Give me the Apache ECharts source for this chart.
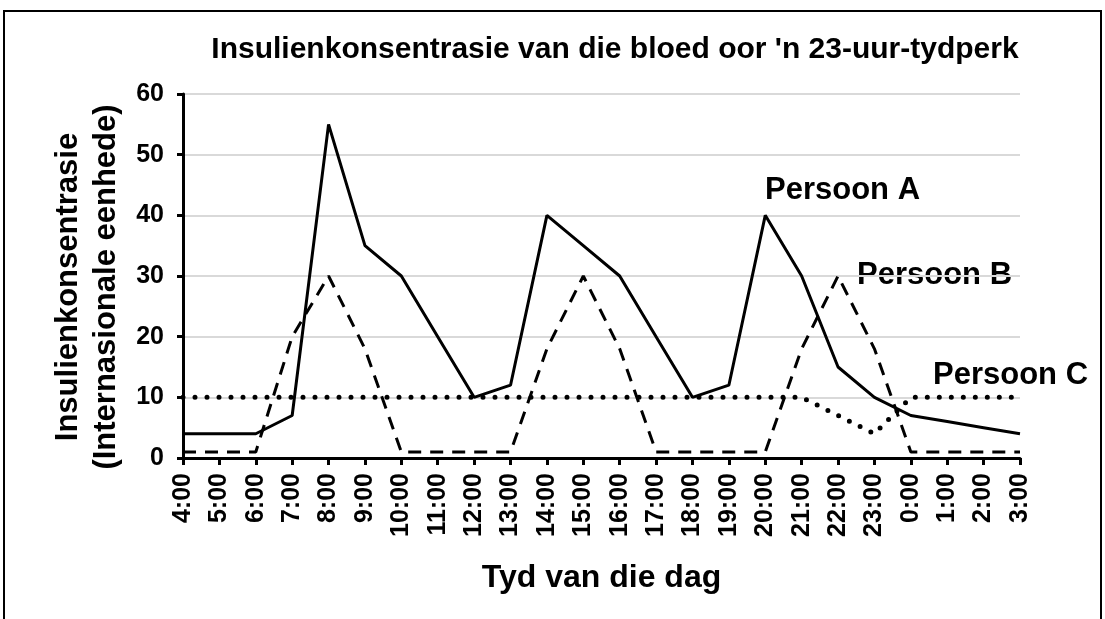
<!DOCTYPE html>
<html>
<head>
<meta charset="utf-8">
<script src="https://cdn.jsdelivr.net/npm/echarts@6/dist/echarts.min.js"></script>
<style>
  html, body { margin: 0; padding: 0; background: #fff; }
  #chart { width: 1105px; height: 619px; }
</style>
</head>
<body>
<div id="chart"></div>
<script>
var hours = ['4:00', '5:00', '6:00', '7:00', '8:00', '9:00', '10:00', '11:00', '12:00', '13:00', '14:00', '15:00',
    '16:00', '17:00', '18:00', '19:00', '20:00', '21:00', '22:00', '23:00', '0:00', '1:00', '2:00', '3:00'];
var persoonA = [4, 4, 4, 7, 55, 35, 30, 20, 10, 12, 40, 35, 30, 20, 10, 12, 40, 30, 15, 10, 7, 6, 5, 4];
var persoonB = [1, 1, 1, 20, 30, 18, 1, 1, 1, 1, 18, 30, 18, 1, 1, 1, 1, 18, 30, 18, 1, 1, 1, 1];
var persoonC = [10, 10, 10, 10, 10, 10, 10, 10, 10, 10, 10, 10, 10, 10, 10, 10, 10, 10, 7, 4, 10, 10, 10, 10];

var font = 'Liberation Sans, Arial, sans-serif';
var myChart = echarts.init(document.getElementById('chart'));

var option = {
    backgroundColor: '#fff',
    animation: false,
    title: {
        text: "Insulienkonsentrasie van die bloed oor 'n 23-uur-tydperk",
        left: 610,
        textAlign: 'center',
        top: 30,
        textStyle: { fontFamily: font, fontSize: 30, fontWeight: 'bold', color: '#000' }
    },
    grid: { left: 183, right: 85, top: 94, bottom: 161 },
    xAxis: {
        type: 'category',
        data: hours,
        boundaryGap: false,
        name: 'Tyd van die dag',
        nameLocation: 'middle',
        nameGap: 104,
        nameTextStyle: { fontFamily: font, fontSize: 32, fontWeight: 'bold', color: '#000' },
        axisLine: { lineStyle: { color: '#000', width: 3 } },
        axisTick: { show: true, alignWithLabel: true, length: 7, lineStyle: { color: '#000', width: 3 } },
        axisLabel: { interval: 0, rotate: 90, margin: 15, fontFamily: font, fontSize: 25, fontWeight: 'bold', color: '#000' },
        splitLine: { show: false }
    },
    yAxis: {
        type: 'value',
        min: 0,
        max: 60,
        interval: 10,
        name: 'Insulienkonsentrasie\n(Internasionale eenhede)',
        nameLocation: 'middle',
        nameRotate: 90,
        nameGap: 56,
        nameTextStyle: { fontFamily: font, fontSize: 31, fontWeight: 'bold', color: '#000', lineHeight: 38, padding: [0, 22, 0, 0] },
        axisLine: { show: true, lineStyle: { color: '#000', width: 3 } },
        axisTick: { show: true, length: 6, lineStyle: { color: '#000', width: 3 } },
        axisLabel: { margin: 19, fontFamily: font, fontSize: 25, fontWeight: 'bold', color: '#000' },
        splitLine: { show: true, lineStyle: { color: '#d9d9d9', width: 2 } }
    },
    series: [{
        name: 'Persoon C',
        type: 'line',
        data: persoonC,
        symbol: 'none',
        lineStyle: { color: '#000', width: 5, type: [0, 12], cap: 'round' },
        z: 2
    }, {
        name: 'Persoon B',
        type: 'line',
        data: persoonB,
        symbol: 'none',
        lineStyle: { color: '#000', width: 3, type: [13, 9] },
        z: 3
    }, {
        name: 'Persoon A',
        type: 'line',
        data: persoonA,
        symbol: 'none',
        lineStyle: { color: '#000', width: 3 },
        z: 4
    }],
    graphic: [{
        type: 'rect',
        shape: { x: 4, y: 11, width: 1097, height: 640 },
        style: { fill: 'none', stroke: '#000', lineWidth: 2 },
        silent: true
    }, {
        type: 'text', left: 765, top: 175,
        style: { text: 'Persoon A', font: 'bold 31px ' + font, fill: '#000' }
    }, {
        type: 'text', left: 857, top: 260,
        style: { text: 'Persoon B', font: 'bold 31px ' + font, fill: '#000' }
    }, {
        type: 'text', left: 933, top: 360,
        style: { text: 'Persoon C', font: 'bold 31px ' + font, fill: '#000' }
    }]
};

myChart.setOption(option);
</script>
</body>
</html>
